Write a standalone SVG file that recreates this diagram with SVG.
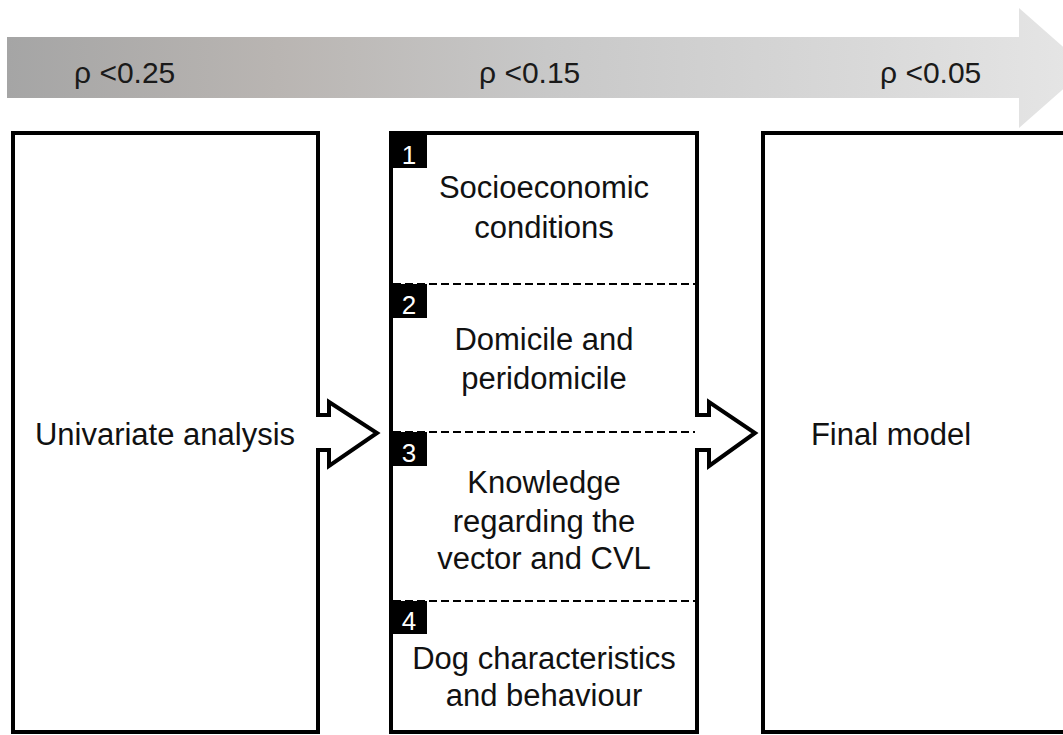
<svg xmlns="http://www.w3.org/2000/svg" width="1063" height="735" viewBox="0 0 1063 735">
  <defs>
    <linearGradient id="band" gradientUnits="userSpaceOnUse" x1="7" y1="0" x2="1087" y2="0">
      <stop offset="0" stop-color="#a5a5a5"/>
      <stop offset="0.25" stop-color="#b9b5b2"/>
      <stop offset="0.5" stop-color="#c8c8c8"/>
      <stop offset="0.8" stop-color="#d9d9d9"/>
      <stop offset="1" stop-color="#e6e6e6"/>
    </linearGradient>
  </defs>
  <style>
    .box { fill: #ffffff; stroke: #000000; stroke-width: 4; }
    .txt { font-family: "Liberation Sans", Arial, sans-serif; font-size: 31px; fill: #111111; text-anchor: middle; }
    .ptxt { font-family: "Liberation Sans", Arial, sans-serif; font-size: 30px; fill: #1a1a1a; }
    .tab { fill: #000000; }
    .num { font-family: "Liberation Sans", Arial, sans-serif; font-size: 26px; fill: #ffffff; text-anchor: middle; }
    .dash { stroke: #000000; stroke-width: 2; stroke-dasharray: 8 4; fill: none; }
    .conn { fill: #ffffff; stroke: #000000; stroke-width: 4; stroke-linejoin: miter; }
  </style>
  <rect width="1063" height="735" fill="#ffffff"/>

  <g id="pvalue-arrow">
    <polygon points="7,37 1019,37 1019,8 1087,68 1019,128 1019,98 7,98" fill="url(#band)"/>
    <text class="ptxt" x="74" y="83">ρ &lt;0.25</text>
    <text class="ptxt" x="479" y="83">ρ &lt;0.15</text>
    <text class="ptxt" x="880" y="83">ρ &lt;0.05</text>
  </g>

  <g id="univariate">
    <rect class="box" x="13" y="133" width="305" height="599"/>
    <text class="txt" x="165" y="445">Univariate analysis</text>
  </g>

  <g id="blocks">
    <rect class="box" x="391" y="133" width="306" height="599"/>
    <line class="dash" x1="393" y1="284" x2="695" y2="284"/>
    <line class="dash" x1="393" y1="432" x2="697" y2="432"/>
    <line class="dash" x1="393" y1="601" x2="695" y2="601"/>
    <rect class="tab" x="391" y="133" width="36" height="35"/>
    <text class="num" x="409" y="164">1</text>
    <rect class="tab" x="391" y="284" width="36" height="34"/>
    <text class="num" x="409" y="314">2</text>
    <rect class="tab" x="391" y="432" width="36" height="34"/>
    <text class="num" x="409" y="462">3</text>
    <rect class="tab" x="391" y="601" width="36" height="33"/>
    <text class="num" x="409" y="630">4</text>
    <text class="txt" x="544" y="198">Socioeconomic</text>
    <text class="txt" x="544" y="238">conditions</text>
    <text class="txt" x="544" y="350">Domicile and</text>
    <text class="txt" x="544" y="389">peridomicile</text>
    <text class="txt" x="544" y="493">Knowledge</text>
    <text class="txt" x="544" y="532">regarding the</text>
    <text class="txt" x="544" y="569">vector and CVL</text>
    <text class="txt" x="544" y="669">Dog characteristics</text>
    <text class="txt" x="544" y="706">and behaviour</text>
  </g>

  <g id="final">
    <rect class="box" x="763" y="133" width="320" height="599"/>
    <text class="txt" x="891" y="445">Final model</text>
  </g>

  <g id="connectors">
    <polyline class="conn" points="316,415 329,415 329,402 377,433 329,466 329,450 316,450"/>
    <polyline class="conn" points="695,415 709,415 709,402 755,433 709,466 709,450 695,450"/>
  </g>
</svg>
